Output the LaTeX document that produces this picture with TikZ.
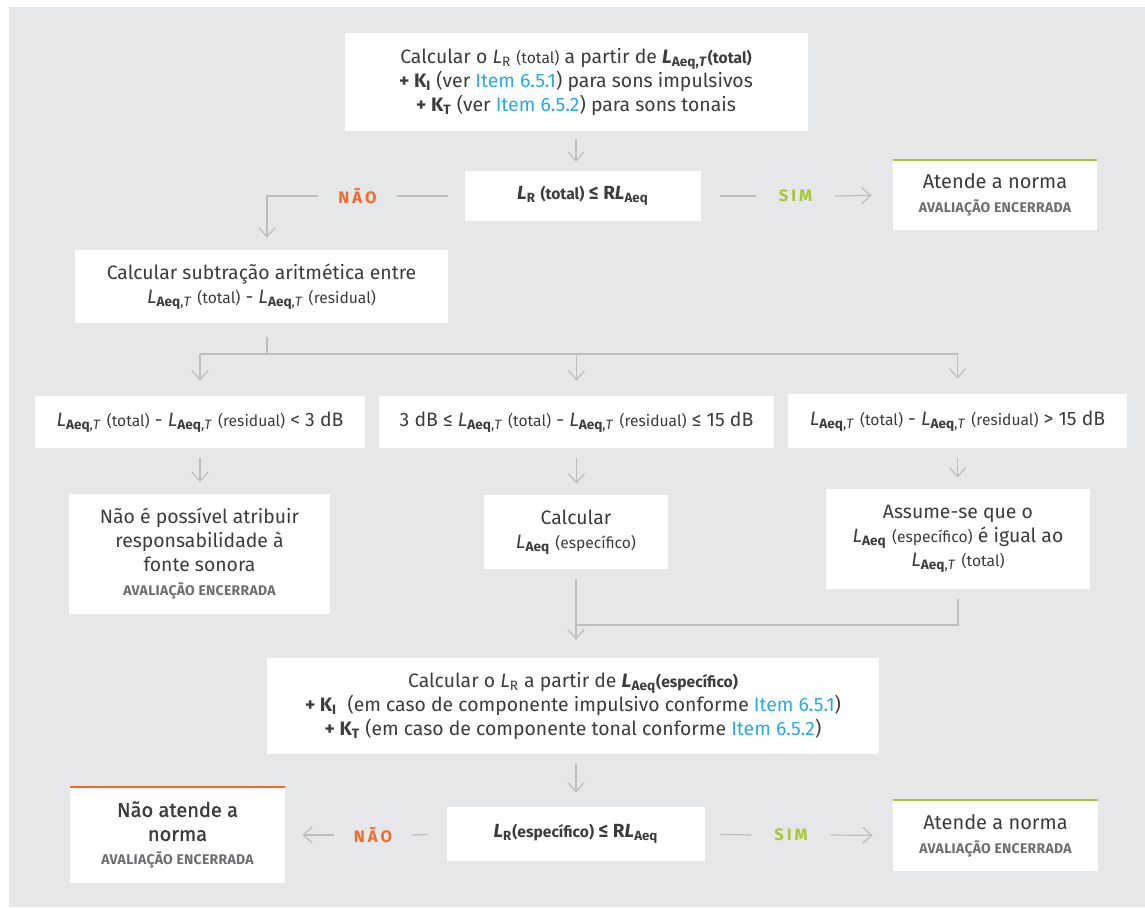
\documentclass[tikz,border=0pt]{standalone}
\usepackage{fontspec}
\setmainfont{Fira Sans}
\newfontfamily\headfont{Fira Sans}
\newfontfamily\medfont{Fira Sans}[FakeBold=1.2]
\newfontfamily\capsfont{Fira Sans}[LetterSpace=2]
\newfontfamily\tagfont{Fira Sans}[LetterSpace=18]
\usetikzlibrary{arrows.meta}

\definecolor{bg}{HTML}{E6E7E8}
\definecolor{lin}{HTML}{BCBEC0}
\definecolor{txt}{HTML}{3C3C3E}
\definecolor{subg}{HTML}{6D6E71}
\definecolor{linkblue}{HTML}{29ABE2}
\definecolor{naoorange}{HTML}{F26A2E}
\definecolor{simgreen}{HTML}{A5C83B}

\newcommand{\LAT}{\textit{L}\textsubscript{\textbf{Aeq},\textit{T}}}
\newcommand{\LA}{\textit{L}\textsubscript{\textbf{Aeq}}}
\newcommand{\LRr}{\textit{L}\textsubscript{R}}
\newcommand{\sm}[1]{{\fontsize{7.8}{9}\selectfont #1}}
\newcommand{\itm}[1]{\textcolor{linkblue}{Item #1}}
\newcommand{\KI}{\textbf{+ K\textsubscript{I}}}
\newcommand{\KT}{\textbf{+ K\textsubscript{T}}}
\newcommand{\fim}{{\capsfont\bfseries\fontsize{7}{8}\selectfont\color{subg}AVALIAÇÃO ENCERRADA}}
\newcommand{\titulo}[1]{{\headfont\fontsize{10}{12}\selectfont #1}}

\begin{document}
\begin{tikzpicture}[x=0.5pt, y=-0.5pt,
    box/.style={fill=white, inner sep=0pt, align=center, text=txt,
      font=\fontsize{9.7}{12}\selectfont},
    decbox/.style={box, font=\fontsize{9.5}{11}\selectfont\bfseries},
    ln/.style={draw=lin, line width=0.6pt},
    arr/.style={ln, -{Straight Barb[length=4.5pt,width=8pt]}},
    lbl/.style={fill=bg, inner sep=0pt, minimum width=39pt, minimum height=10pt,
      font=\tagfont\bfseries\fontsize{8.3}{9}\selectfont}]

  % panel
  \useasboundingbox (0,0) rectangle (1145,907);
  \fill[bg] (9,7) rectangle (1145,907);

  % boxes
  \node[box, minimum width=231.5pt, minimum height=49pt] (top) at (576,82)
    {Calcular o \LRr\ \sm{(total)} a partir de \textbf{\LAT\sm{(total)}}\\
     \KI\ (ver \itm{6.5.1}) para sons impulsivos\\
     \KT\ (ver \itm{6.5.2}) para sons tonais};
  \node[decbox, minimum width=118pt, minimum height=25pt] (dec1) at (583,196)
    {\LRr\ \sm{(total)} ≤ R\LA};
  \node[box, minimum width=102pt, minimum height=35pt] (ok1) at (995,195)
    {\titulo{Atende a norma}\\ \fim};
  \node[box, minimum width=186.5pt, minimum height=36.5pt] (sub) at (261.5,286.5)
    {Calcular subtração aritmética entre\\
     \LAT\ \sm{(total)} - \LAT\ \sm{(residual)}};

  \node[box, minimum width=165pt, minimum height=26pt] (c1) at (200,422)
    {\LAT\ \sm{(total)} - \LAT\ \sm{(residual)} < 3 dB};
  \node[box, minimum width=197.5pt, minimum height=26pt] (c2) at (576.5,422)
    {3 dB ≤ \LAT\ \sm{(total)} - \LAT\ \sm{(residual)} ≤ 15 dB};
  \node[box, minimum width=169.5pt, minimum height=27pt] (c3) at (957.5,421)
    {\LAT\ \sm{(total)} - \LAT\ \sm{(residual)} > 15 dB};

  \node[box, minimum width=130.5pt, minimum height=60pt] (n1) at (199.5,553.5)
    {Não é possível atribuir\\ responsabilidade à\\ fonte sonora\\ \fim};
  \node[box, minimum width=92pt, minimum height=37pt] (n2) at (576,532)
    {Calcular\\ \LA\ \sm{(específico)}};
  \node[box, minimum width=132pt, minimum height=50pt] (n3) at (958,539)
    {Assume-se que o\\ \LA\ \sm{(específico)} é igual ao\\ \LAT\ \sm{(total)}};

  \node[box, minimum width=306pt, minimum height=48pt] (lr) at (573,706)
    {Calcular o \LRr\ a partir de \textbf{\LA\sm{(específico)}}\\
     \KI\ \ (em caso de componente impulsivo conforme \itm{6.5.1})\\
     \KT\ (em caso de componente tonal conforme \itm{6.5.2})};
  \node[decbox, minimum width=129pt, minimum height=27pt] (dec2) at (576,834)
    {\LRr\sm{(específico)} ≤ R\LA};
  \node[box, minimum width=107.5pt, minimum height=48pt] (nok) at (177.5,835)
    {{\medfont\fontsize{10}{12}\selectfont Não atende a}\\
     {\medfont\fontsize{10}{12}\selectfont norma}\\ \fim};
  \node[box, minimum width=102.5pt, minimum height=35.5pt] (ok2) at (995.5,835.5)
    {\titulo{Atende a norma}\\ \fim};

  % coloured top edges
  \draw[simgreen, line width=1pt] (ok1.north west) -- (ok1.north east);
  \draw[simgreen, line width=1pt] (ok2.north west) -- (ok2.north east);
  \draw[naoorange, line width=1pt] (nok.north west) -- (nok.north east);

  % labels
  \node[lbl, text=naoorange] (no1) at (357.5,196) {NÃO};
  \node[lbl, text=simgreen] (sim1) at (795.5,196) {SIM};
  \node[lbl, text=naoorange] (no2) at (373,835) {NÃO};
  \node[lbl, text=simgreen] (sim2) at (791,835) {SIM};

  \coordinate (k1) at (267,196);
  \coordinate (b0) at (267,354);
  \coordinate (j) at (576,625);

  % connectors
  \draw[arr, shorten <=4pt, shorten >=4.5pt] (top.south) -- (top.south |- dec1.north);
  \draw[ln, shorten <=8.5pt] (dec1.west) -- (no1.east);
  \draw[arr, shorten >=6pt] (no1.west) -- (k1) -- (k1 |- sub.north);
  \draw[ln, shorten <=9.5pt] (dec1.east) -- (sim1.west);
  \draw[arr, shorten >=10.5pt] (sim1.east) -- (ok1.west);

  \draw[ln, shorten <=7pt] (b0 |- sub.south) -- (b0);
  \draw[ln] (c1.north |- b0) -- (c3.north |- b0);
  \foreach \c in {c1,c2,c3}
    \draw[arr, shorten >=7.5pt] (\c.north |- b0) -- (\c.north);

  \draw[arr, shorten <=5pt, shorten >=5.5pt] (c1.south) -- (c1.south |- n1.north);
  \draw[arr, shorten <=5pt, shorten >=5.5pt] (c2.south) -- (c2.south |- n2.north);
  \draw[arr, shorten <=5pt, shorten >=5.5pt] (c3.south) -- (c3.south |- n3.north);

  \draw[arr, shorten <=5pt, shorten >=9pt] (n2.south) -- (n2.south |- lr.north);
  \draw[ln, shorten <=5pt] (n3.south) -- (n3.south |- j) -- (j);

  \draw[arr, shorten <=5pt, shorten >=7pt] (dec2.north |- lr.south) -- (dec2.north);
  \draw[ln, shorten <=9.5pt] (dec2.west) -- (no2.east);
  \draw[arr, shorten >=8.5pt] (no2.west) -- (nok.east);
  \draw[ln, shorten <=7.5pt] (dec2.east) -- (sim2.west);
  \draw[arr, shorten >=10pt] (sim2.east) -- (ok2.west);
\end{tikzpicture}
\end{document}
